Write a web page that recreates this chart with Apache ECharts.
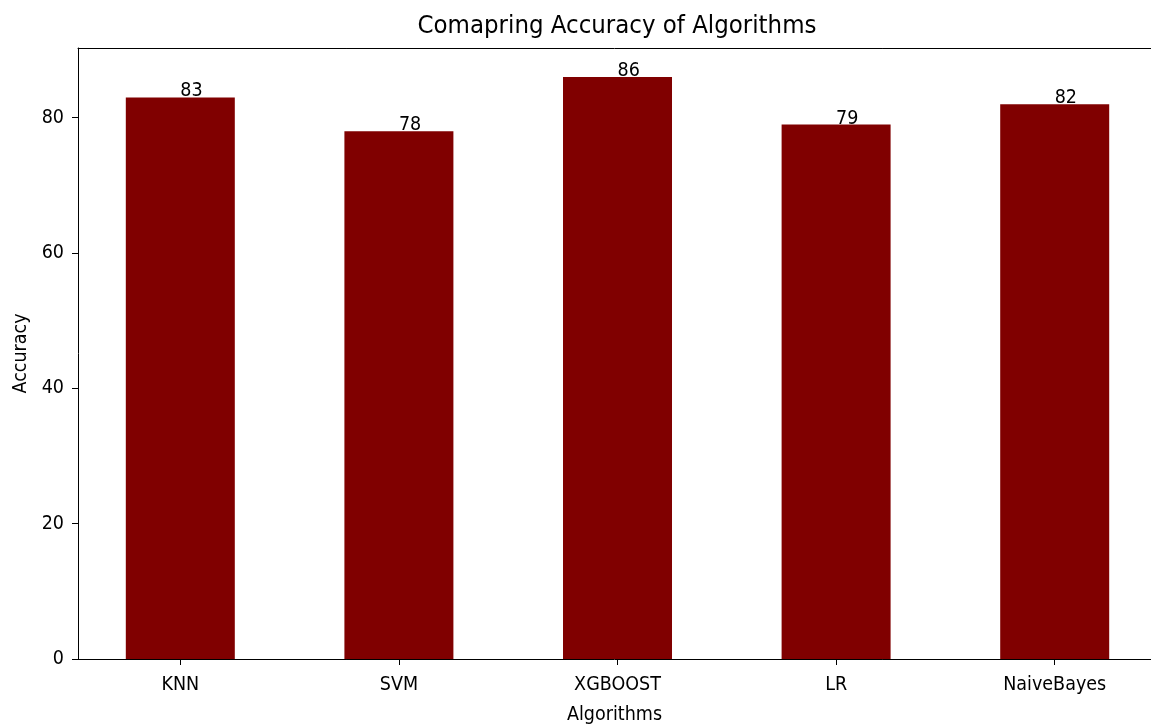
<!DOCTYPE html>
<html>
<head>
<meta charset="utf-8">
<script src="https://cdn.jsdelivr.net/npm/echarts@6/dist/echarts.min.js"></script>
<style>html,body{margin:0;padding:0;background:#fff}#c{width:1151px;height:726px}</style>
</head>
<body>
<div id="c"></div>
<script>
const categories = ['KNN', 'SVM', 'XGBOOST', 'LR', 'NaiveBayes'];
const accuracy = [83, 78, 86, 79, 82];
const yTicks = [0, 20, 40, 60, 80];
const xTicks = [0, 1, 2, 3, 4];

const FONT = 'DejaVu Sans Condensed';
const FS = 19.5;
const chart = echarts.init(document.getElementById('c'), null, {renderer: 'canvas'});
const gridLeft = 78, gridTop = 48, gridBottom = 67;
const unitPx = 218.6;
const xMin = -0.468;
const xMax = xMin + (1151 - gridLeft) / unitPx;
chart.setOption({
  animation: false,
  backgroundColor: '#fff',
  graphic: [{
    type: 'text',
    x: 617, y: 26,
    style: {text: 'Comapring Accuracy of Algorithms', font: '25.5px "DejaVu Sans Condensed"', fill: '#000', align: 'center', verticalAlign: 'middle'}
  }],
  grid: {left: gridLeft, top: gridTop, right: 0, bottom: gridBottom, show: false, containLabel: false, outerBoundsMode: 'none'},
  xAxis: [{
    type: 'value', min: xMin, max: xMax,
    name: 'Algorithms', nameLocation: 'middle', nameGap: 46,
    nameTextStyle: {fontFamily: FONT, fontSize: FS, color: '#000'},
    axisLine: {show: true, onZero: false, lineStyle: {color: '#000', width: 1}},
    axisTick: {show: true, length: 6, customValues: xTicks, lineStyle: {color: '#000'}},
    axisLabel: {customValues: xTicks, formatter: v => categories[Math.round(v)], fontFamily: FONT, fontSize: FS, color: '#000', margin: 16},
    splitLine: {show: false}
  }, {
    type: 'value', min: xMin, max: xMax, position: 'top',
    axisLine: {show: true, onZero: false, lineStyle: {color: '#000', width: 1}},
    axisTick: {show: false}, axisLabel: {show: false}, splitLine: {show: false}
  }],
  yAxis: {
    type: 'value', min: 0, max: 90.3,
    name: 'Accuracy', nameLocation: 'middle', nameGap: 46, nameRotate: 90,
    nameTextStyle: {fontFamily: FONT, fontSize: FS, color: '#000'},
    axisLine: {show: true, onZero: false, lineStyle: {color: '#000', width: 1}},
    axisTick: {show: true, length: 6, customValues: yTicks, lineStyle: {color: '#000'}},
    axisLabel: {customValues: yTicks, fontFamily: FONT, fontSize: FS, color: '#000', margin: 14},
    splitLine: {show: false}
  },
  series: [{
    type: 'bar',
    xAxisIndex: 0,
    data: accuracy.map((v, i) => [i, v]),
    barWidth: 109,
    itemStyle: {color: '#800000'},
    label: {
      show: true, position: ['50%', 0], align: 'left', verticalAlign: 'bottom', offset: [0, 4],
      formatter: p => String(p.value[1]), fontFamily: FONT, fontSize: FS, color: '#000'
    }
  }]
});
</script>
</body>
</html>
